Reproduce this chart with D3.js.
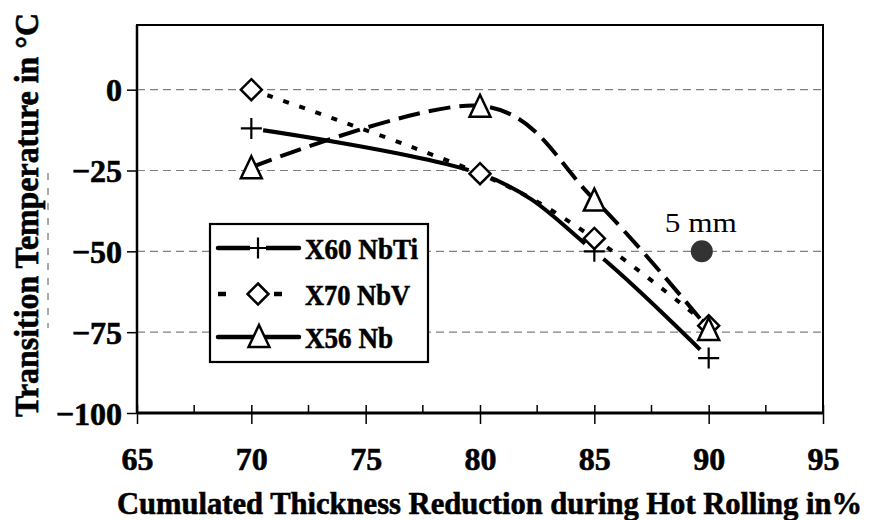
<!DOCTYPE html>
<html>
<head>
<meta charset="utf-8">
<script src="https://cdn.jsdelivr.net/npm/d3@7"></script>
<style>
  html, body { margin: 0; padding: 0; background: #fff; }
  svg { display: block; }
  text { font-family: "Liberation Serif", "Times New Roman", serif; fill: #000; }
  text.heavy { font-weight: bold; stroke: #000; stroke-width: 0.6px; }
</style>
</head>
<body>
<svg id="chart" width="879" height="520"></svg>
<script>
// Cumulated thickness reduction (%) at which each steel was tested
const reduction = [70, 80, 85, 90];

// Transition temperatures (°C) per steel grade
const x60NbTi = [-12, -26, -50, -83];
const x70NbV  = [0, -26, -46, -73];
const x56Nb   = [-24, -5, -34, -74];

// Single reference measurement for 5 mm plate
const plateReduction = [89.7];
const plateTemp = [-50];
const plateLabel = ["5 mm"];

// Axis ticks
const xTicks = [65, 70, 75, 80, 85, 90, 95];
const xMinorTicks = [67.5, 72.5, 77.5, 82.5, 87.5, 92.5];
const yTicks = [-100, -75, -50, -25, 0];
const gridValues = [-75, -50, -25, 0];

const seriesNames = ["X60 NbTi", "X70 NbV", "X56 Nb"];

const SERIF = "'Liberation Serif', 'Times New Roman', serif";

const svg = d3.select("#chart");

const x = d3.scaleLinear().domain([65, 95]).range([137, 823]);
const y = d3.scaleLinear().domain([-100, 20]).range([413, 25]);

// Dashed horizontal gridlines
svg.append("g").selectAll("line").data(gridValues).join("line")
  .attr("x1", x(65)).attr("x2", x(95))
  .attr("y1", d => y(d)).attr("y2", d => y(d))
  .attr("stroke", "#808080").attr("stroke-width", 1.2)
  .attr("stroke-dasharray", "8,5");

// Y axis
const yAxis = svg.append("g")
  .attr("transform", `translate(${x(65)},0)`)
  .call(d3.axisLeft(y).tickValues(yTicks).tickSize(10).tickPadding(5).tickFormat(d3.format("d")));
yAxis.select(".domain").remove();
yAxis.selectAll(".tick line").attr("stroke", "#000").attr("stroke-width", 1.5);
yAxis.selectAll(".tick text")
  .attr("class", "heavy")
  .style("font-size", "32px").style("font-family", SERIF)
  .attr("dy", null).attr("y", 11);

// X axis: major ticks cross the axis, minor ticks point inward
const xAxis = svg.append("g")
  .attr("transform", `translate(0,${y(-100)})`)
  .call(d3.axisBottom(x).tickValues(xTicks).tickSize(11).tickPadding(0).tickFormat(d3.format("d")));
xAxis.select(".domain").remove();
xAxis.selectAll(".tick line").attr("y1", -8).attr("stroke", "#000").attr("stroke-width", 1.5);
xAxis.selectAll(".tick text")
  .attr("class", "heavy")
  .style("font-size", "32px").style("font-family", SERIF)
  .attr("dy", null).attr("y", 57);
svg.append("g").selectAll("line").data(xMinorTicks).join("line")
  .attr("x1", d => x(d)).attr("x2", d => x(d))
  .attr("y1", y(-100) - 8).attr("y2", y(-100))
  .attr("stroke", "#000").attr("stroke-width", 1.5);

// Plot frame
svg.append("rect")
  .attr("x", x(65)).attr("y", y(20))
  .attr("width", x(95) - x(65)).attr("height", y(-100) - y(20))
  .attr("fill", "none").attr("stroke", "#000").attr("stroke-width", 2);
svg.append("line")
  .attr("x1", x(65)).attr("x2", x(95)).attr("y1", y(-100)).attr("y2", y(-100))
  .attr("stroke", "#000").attr("stroke-width", 3);
svg.append("line")
  .attr("x1", x(65)).attr("x2", x(65)).attr("y1", y(20)).attr("y2", y(-100))
  .attr("stroke", "#000").attr("stroke-width", 2.5);

const line = d3.line()
  .x(d => x(d[0])).y(d => y(d[1]))
  .curve(d3.curveCardinal.tension(0));

const pts = vals => reduction.map((r, i) => [r, vals[i]]);

// Mask leaves small gaps in the X60 line around its cross markers
const defs = svg.append("defs");
const mask = defs.append("mask").attr("id", "plusGap").attr("maskUnits", "userSpaceOnUse")
  .attr("x", 0).attr("y", 0).attr("width", 879).attr("height", 520);
mask.append("rect").attr("width", 879).attr("height", 520).attr("fill", "#fff");
mask.selectAll("circle").data(pts(x60NbTi)).join("circle")
  .attr("cx", d => x(d[0])).attr("cy", d => y(d[1])).attr("r", 12).attr("fill", "#000");

// Series lines
svg.append("path").datum(pts(x60NbTi))
  .attr("d", line).attr("fill", "none").attr("stroke", "#000")
  .attr("stroke-width", 4).attr("mask", "url(#plusGap)");
svg.append("path").datum(pts(x70NbV))
  .attr("d", line).attr("fill", "none").attr("stroke", "#000")
  .attr("stroke-width", 4).attr("stroke-dasharray", "6,11");
svg.append("path").datum(pts(x56Nb))
  .attr("d", line).attr("fill", "none").attr("stroke", "#000")
  .attr("stroke-width", 4).attr("stroke-dasharray", "22,9");

// Marker shapes
const plusPath = s => `M${-s},0H${s}M0,${-s}V${s}`;
const diamondPath = s => `M0,${-s}L${s},0L0,${s}L${-s},0Z`;
const trianglePath = s => `M0,${-s}L${s * 0.95},${s}L${-s * 0.95},${s}Z`;

function drawPlus(g, cx, cy) {
  g.append("path").attr("d", plusPath(10.5))
    .attr("transform", `translate(${cx},${cy})`)
    .attr("fill", "none").attr("stroke", "#000").attr("stroke-width", 2.2);
}
function drawDiamond(g, cx, cy) {
  g.append("path").attr("d", diamondPath(10.5))
    .attr("transform", `translate(${cx},${cy})`)
    .attr("fill", "#fff").attr("stroke", "#000").attr("stroke-width", 2.5);
}
function drawTriangle(g, cx, cy) {
  g.append("path").attr("d", trianglePath(11))
    .attr("transform", `translate(${cx},${cy})`)
    .attr("fill", "#fff").attr("stroke", "#000").attr("stroke-width", 2.5)
    .attr("stroke-linejoin", "miter");
}

const markers = svg.append("g");
pts(x60NbTi).forEach(d => drawPlus(markers, x(d[0]), y(d[1])));
pts(x70NbV).forEach(d => drawDiamond(markers, x(d[0]), y(d[1])));
pts(x56Nb).forEach(d => drawTriangle(markers, x(d[0]), y(d[1])));

// 5 mm plate reference point
svg.append("g").selectAll("circle").data(plateReduction).join("circle")
  .attr("cx", d => x(d)).attr("cy", (d, i) => y(plateTemp[i])).attr("r", 11)
  .attr("fill", "#333");
svg.append("g").selectAll("text").data(plateLabel).join("text")
  .attr("x", (d, i) => x(plateReduction[i]) - 37)
  .attr("y", (d, i) => y(plateTemp[i]) - 19)
  .attr("font-size", 28)
  .attr("textLength", 72).attr("lengthAdjust", "spacingAndGlyphs")
  .text(d => d);

// Legend
const legend = svg.append("g");
legend.append("rect")
  .attr("x", 210).attr("y", 224).attr("width", 218).attr("height", 138)
  .attr("fill", "#fff").attr("stroke", "#000").attr("stroke-width", 2.2);
const rowY = [248, 294, 337];
const textLen = [113, 105, 88];
seriesNames.forEach((name, i) => {
  const ly = rowY[i];
  if (i === 1) {
    [[218, 226], [274, 282]].forEach(([a, b]) =>
      legend.append("line").attr("x1", a).attr("x2", b).attr("y1", ly).attr("y2", ly)
        .attr("stroke", "#000").attr("stroke-width", 4.5));
  } else {
    legend.append("line").attr("x1", 218).attr("x2", 299).attr("y1", ly).attr("y2", ly)
      .attr("stroke", "#000").attr("stroke-width", 4.5).attr("stroke-linecap", "round");
  }
  if (i === 0) {
    legend.append("rect").attr("x", 250).attr("y", ly - 3).attr("width", 16).attr("height", 6).attr("fill", "#fff");
    drawPlus(legend, 258, ly);
  } else if (i === 1) {
    drawDiamond(legend, 258, ly);
  } else {
    drawTriangle(legend, 259, ly - 1);
  }
  legend.append("text")
    .attr("class", "heavy")
    .attr("x", 305).attr("y", ly + 11)
    .style("font-size", "30px")
    .attr("textLength", textLen[i]).attr("lengthAdjust", "spacingAndGlyphs")
    .text(name);
});

// Axis titles
svg.append("text")
  .attr("class", "heavy")
  .attr("x", 117).attr("y", 514)
  .style("font-size", "31px")
  .attr("textLength", 745).attr("lengthAdjust", "spacingAndGlyphs")
  .text("Cumulated Thickness Reduction during Hot Rolling in%");
svg.append("text")
  .attr("class", "heavy")
  .attr("transform", "translate(38,215) rotate(-90) scale(1,1.12)")
  .attr("text-anchor", "middle")
  .style("font-size", "31px")
  .attr("textLength", 404).attr("lengthAdjust", "spacingAndGlyphs")
  .text("Transition Temperature in °C");

// Faint dashed stroke beside the y title
svg.append("line")
  .attr("x1", 48).attr("x2", 48).attr("y1", 173).attr("y2", 328)
  .attr("stroke", "#555").attr("stroke-width", 1).attr("stroke-dasharray", "7,8");
</script>
</body>
</html>
